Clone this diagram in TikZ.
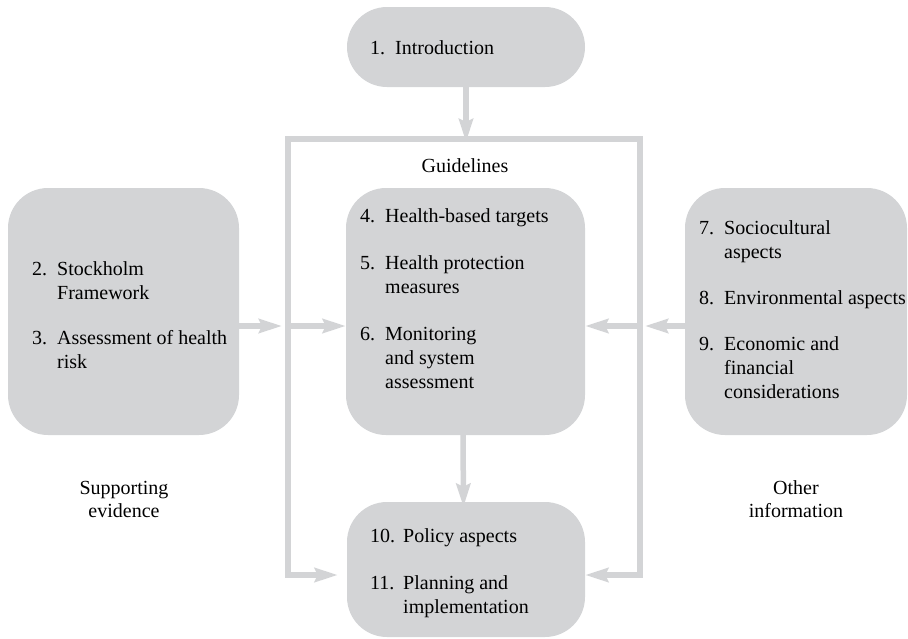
\documentclass[tikz,border=0pt]{standalone}
\usepackage{fontspec}
\setmainfont{LiberationSerif}[Extension=.ttf,UprightFont=*-Regular,BoldFont=*-Bold,ItalicFont=*-Italic,BoldItalicFont=*-BoldItalic]
\usetikzlibrary{arrows.meta,calc}
\definecolor{boxgray}{RGB}{211,212,214}
\definecolor{linegray}{RGB}{211,212,214}
\begin{document}
\begin{tikzpicture}[x=1pt,y=-1pt,
  box/.style={fill=boxgray,draw=none,rounded corners=40pt,inner sep=0pt},
  txt/.style={anchor=base west,inner sep=0pt,font=\fontsize{20}{24}\selectfont},
  captxt/.style={align=center,inner sep=0pt,font=\fontsize{20}{23}\selectfont},
  conn/.style={draw=linegray,line width=5.5pt},
  arr/.style={conn,-{Stealth[length=23pt,width=14pt,inset=3pt]}}]
\useasboundingbox (0,0) rectangle (908,638);

% boxes
\path[box] (347,7) rectangle (585,87);
\node[inner sep=0pt] (intro) at (466,47) [minimum width=238pt,minimum height=80pt] {};
\path[box] (8,188) rectangle (239,435);
\node (left) at (123.5,311.5) [minimum width=231pt,minimum height=247pt,inner sep=0pt] {};
\path[box] (346,188) rectangle (585,435);
\node (mid) at (465.5,311.5) [minimum width=239pt,minimum height=247pt,inner sep=0pt] {};
\path[box] (685,188) rectangle (907,435);
\node (right) at (796,311.5) [minimum width=222pt,minimum height=247pt,inner sep=0pt] {};
\path[box] (347,502) rectangle (585,637);
\node (bottom) at (466,569.5) [minimum width=238pt,minimum height=135pt,inner sep=0pt] {};

% texts
\node[txt] (t1) at (370,54) {1.\hspace{10pt}Introduction};
\node[captxt,anchor=base] (tguide) at (465,172) {Guidelines};
\node[txt] (tleft) at (32,275) {\begin{tabular}[t]{@{}l@{\hspace{10pt}}l@{}}
 2. & Stockholm\\ & Framework\\[21pt]
 3. & Assessment of health\\ & risk\end{tabular}};
\node[txt] (tmid) at (360,222) {\begin{tabular}[t]{@{}l@{\hspace{10pt}}l@{}}
 4. & Health-based targets\\[23pt]
 5. & Health protection\\ & measures\\[23pt]
 6. & Monitoring\\ & and system\\ & assessment\end{tabular}};
\node[txt] (tright) at (699,234) {\begin{tabular}[t]{@{}l@{\hspace{10pt}}l@{}}
 7. & Sociocultural\\ & aspects\\[22pt]
 8. & Environmental aspects\\[22pt]
 9. & Economic and\\ & financial\\ & considerations\end{tabular}};
\node[txt] (tbottom) at (370,542) {\begin{tabular}[t]{@{}l@{\hspace{8pt}}l@{}}
 10. & Policy aspects\\[23pt]
 11. & Planning and\\ & implementation\end{tabular}};
\node[captxt,anchor=base] (tsup) at (124,517) {Supporting\\evidence};
\node[captxt,anchor=base] (toth) at (796,517) {Other\\information};

% frame coordinates
\coordinate (ftl) at (288,139);
\coordinate (ftr) at (640,139);
\coordinate (fbl) at (288,575);
\coordinate (fbr) at (640,575);
\coordinate (fl) at (288,326);
\coordinate (fr) at (640,326);
\coordinate (ftop) at (466,139);

% frame
\draw[conn,line join=miter] (fbl) -- (ftl) -- (ftr) -- (fbr);

% connectors
\draw[arr] (intro.south) -- ([yshift=-3pt]ftop);
\draw[arr] (left.east |- fl) -- ([xshift=-6pt]fl);
\draw[arr] (fl) -- (mid.west |- fl);
\draw[arr] (right.west |- fr) -- ([xshift=5pt]fr);
\draw[arr] (fr) -- (mid.east |- fr);
\draw[arr] ([xshift=-2.5pt]mid.south) -- ([xshift=-2.5pt,yshift=-5pt]bottom.north);
\draw[arr] ([xshift=-2.75pt]fbl) -- ([xshift=-9pt]bottom.west |- fbl);
\draw[arr] ([xshift=2.75pt]fbr) -- (bottom.east |- fbr);
\end{tikzpicture}
\end{document}
